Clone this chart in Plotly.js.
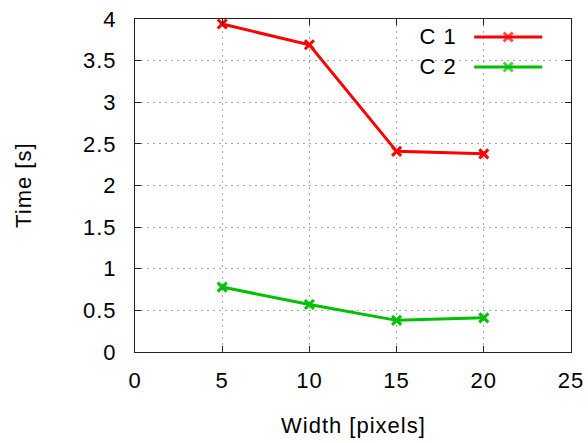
<!DOCTYPE html>
<html>
<head>
<meta charset="utf-8">
<script src="https://cdn.plot.ly/plotly-3.0.1.min.js"></script>
<style>html,body{margin:0;padding:0;background:#fff;}#chart{width:588px;height:443px;}#chart text{letter-spacing:1px;}</style>
</head>
<body>
<div id="chart"></div>
<script>
// Data
const widths = [5, 10, 15, 20];
const c1Times = [3.94, 3.69, 2.41, 2.38];
const c2Times = [0.78, 0.57, 0.38, 0.41];
const seriesNames = ['C 1', 'C 2'];
const xTicks = [0, 5, 10, 15, 20, 25];
const yTicks = [0, 0.5, 1, 1.5, 2, 2.5, 3, 3.5, 4];
const yTickLabels = ['0', '0.5', '1', '1.5', '2', '2.5', '3', '3.5', '4'];
const xTitle = 'Width [pixels]';
const yTitle = 'Time [s]';

const red = '#ff0000';
const green = '#00c000';
const font = 'Liberation Sans, Arial, sans-serif';
const fsz = 22;

function series(y, color) {
  return {
    x: widths, y: y, type: 'scatter', mode: 'lines+markers',
    line: {color: color, width: 3},
    marker: {symbol: 'x-thin', size: 9, line: {color: color, width: 3}, color: color},
    showlegend: false, hoverinfo: 'skip'
  };
}
// legend samples drawn on an overlay axis (0..1)
function legendSample(yPos, color) {
  return {
    x: [0.778, 0.856, 0.934], y: [yPos, yPos, yPos], xaxis: 'x2', yaxis: 'y2',
    type: 'scatter', mode: 'lines+markers',
    line: {color: color, width: 3},
    marker: {symbol: 'x-thin', size: [0, 9, 0], line: {color: color, width: 3}, color: color},
    showlegend: false, hoverinfo: 'skip'
  };
}

const data = [
  series(c1Times, red),
  series(c2Times, green),
  legendSample(0.946, red),
  legendSample(0.856, green)
];

const gridStyle = {showgrid: true, gridcolor: '#a8a8a8', griddash: '2px,4px', gridwidth: 1};

const layout = {
  width: 588, height: 443,
  margin: {l: 134.5, r: 17, t: 19, b: 91},
  paper_bgcolor: '#fff', plot_bgcolor: '#fff',
  font: {family: font, size: fsz, color: '#000'},
  showlegend: false,
  xaxis: Object.assign({
    range: [0, 25], tickvals: xTicks, ticktext: xTicks.map(String),
    ticks: 'inside', ticklen: 6, tickcolor: '#222', mirror: 'ticks',
    showline: true, linecolor: '#222', linewidth: 1, zeroline: false,
    ticklabelstandoff: 9,
    tickfont: {family: font, size: fsz, color: '#000'}
  }, gridStyle),
  yaxis: Object.assign({
    range: [0, 4], tickvals: yTicks, ticktext: yTickLabels,
    ticks: 'inside', ticklen: 6, tickcolor: '#222', mirror: 'ticks',
    showline: true, linecolor: '#222', linewidth: 1, zeroline: false,
    ticklabelstandoff: 13,
    tickfont: {family: font, size: fsz, color: '#000'}
  }, gridStyle),
  xaxis2: {overlaying: 'x', range: [0, 1], visible: false, fixedrange: true},
  yaxis2: {overlaying: 'y', range: [0, 1], visible: false, fixedrange: true},
  annotations: [
    {xref: 'paper', yref: 'paper', x: 0.5, y: -0.222, xanchor: 'center', yanchor: 'middle',
     text: xTitle, showarrow: false, font: {family: font, size: fsz, color: '#000'}},
    {xref: 'paper', yref: 'paper', x: -0.256, y: 0.5, xanchor: 'center', yanchor: 'middle',
     textangle: -90, text: yTitle, showarrow: false, font: {family: font, size: fsz, color: '#000'}},
    {xref: 'paper', yref: 'paper', x: 0.739, y: 0.946, xanchor: 'right', yanchor: 'middle',
     text: seriesNames[0], showarrow: false, font: {family: font, size: fsz, color: '#000'}},
    {xref: 'paper', yref: 'paper', x: 0.739, y: 0.856, xanchor: 'right', yanchor: 'middle',
     text: seriesNames[1], showarrow: false, font: {family: font, size: fsz, color: '#000'}}
  ]
};

Plotly.newPlot('chart', data, layout, {staticPlot: true, displayModeBar: false});
</script>
</body>
</html>
